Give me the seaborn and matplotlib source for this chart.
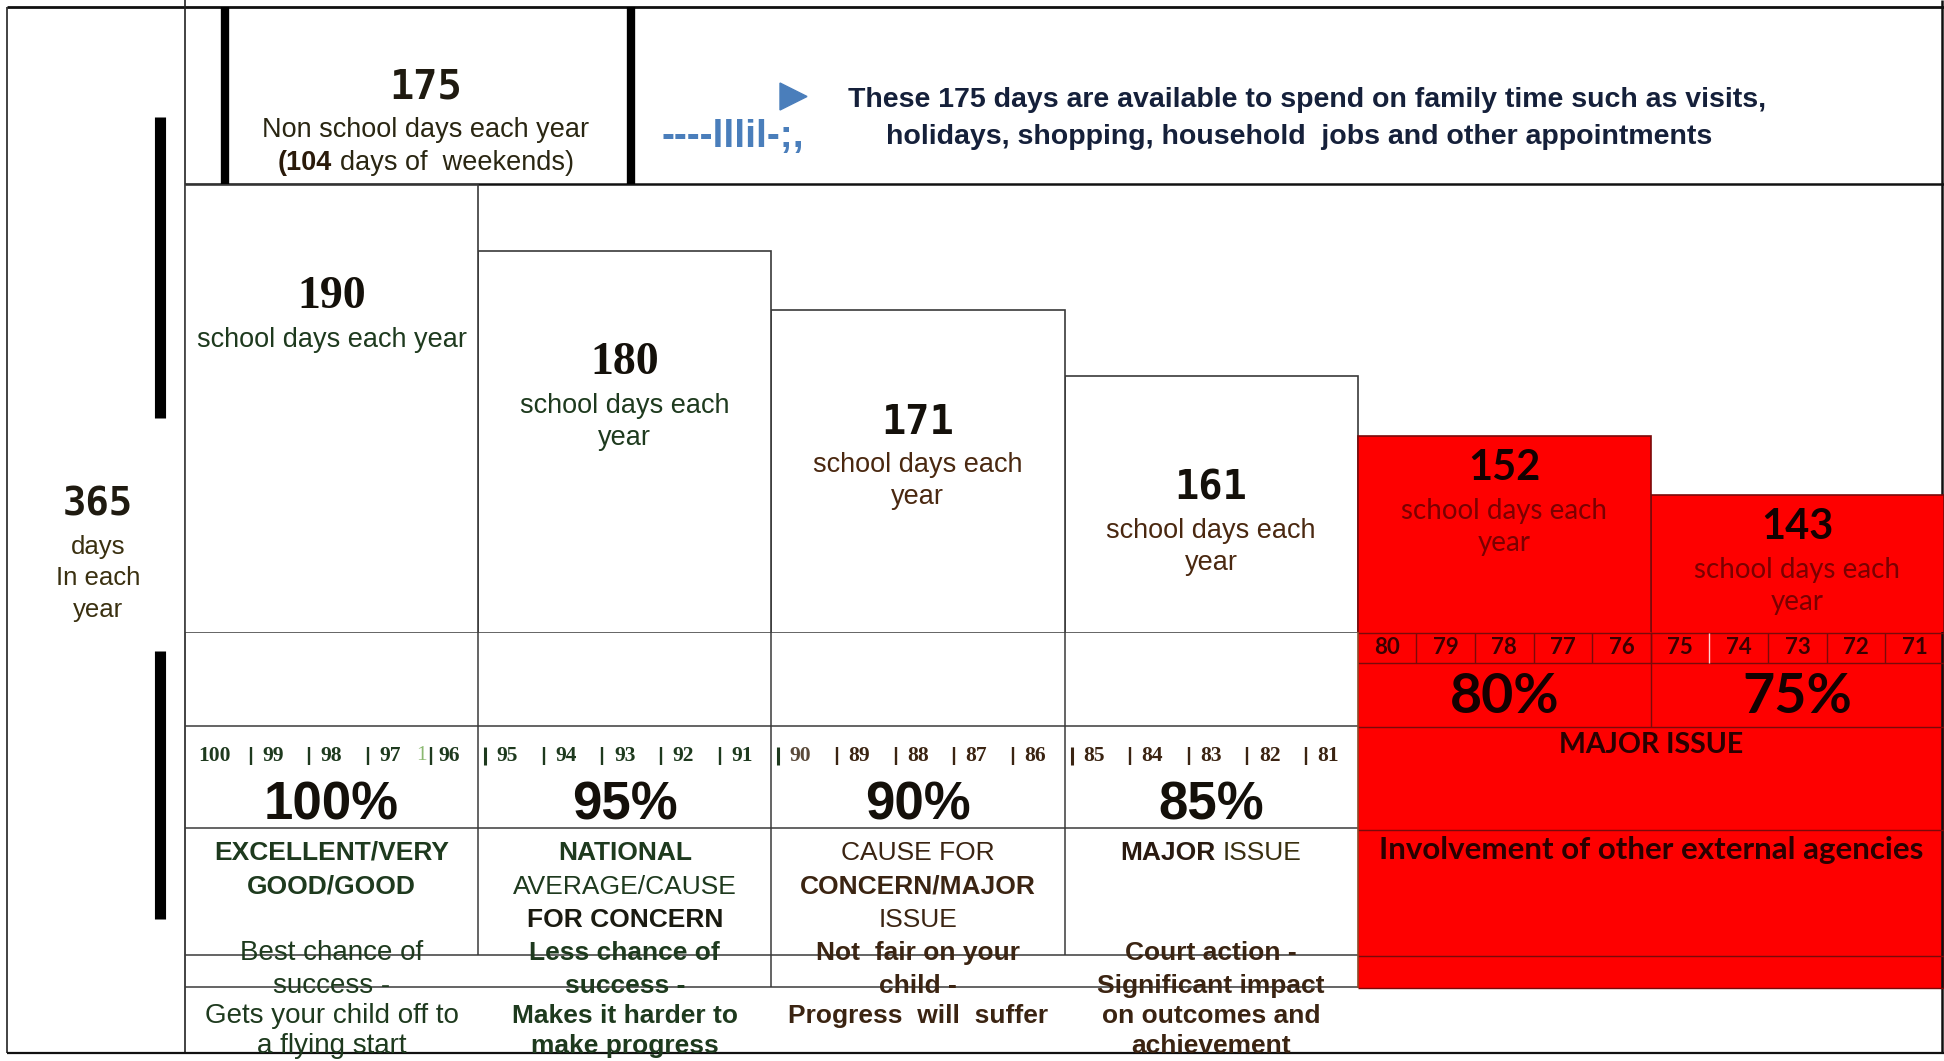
import matplotlib
matplotlib.use("Agg")
import matplotlib.pyplot as plt
import seaborn as sns
import pandas as pd
from matplotlib import font_manager
from matplotlib import transforms as mtrans
from matplotlib.patches import Rectangle, Polygon

# ---------------- data ----------------
attendance_pct = [100, 95, 90, 85, 80, 75]
school_days = [190, 180, 171, 161, 152, 143]
band = ["ok", "ok", "ok", "ok", "major", "major"]
day_captions = ["school days each year", "school days each\nyear", "school days each\nyear",
                "school days each\nyear", "school days each\nyear", "school days each\nyear"]
white_scale = [100, 99, 98, 97, 96, 95, 94, 93, 92, 91, 90, 89, 88, 87, 86, 85, 84, 83, 82, 81]
red_scale = [80, 79, 78, 77, 76, 75, 74, 73, 72, 71]
total_days = 365
non_school_days = 175
weekend_days = 104
status_text = [["EXCELLENT/VERY", "GOOD/GOOD"],
               ["NATIONAL", "AVERAGE/CAUSE", "FOR CONCERN"],
               ["CAUSE FOR", "CONCERN/MAJOR", "ISSUE"],
               ["MAJOR", "ISSUE"]]
outcome_text = [["Best chance of", "success -", "Gets your child off to", "a flying start"],
                ["Less chance of", "success -", "Makes it harder to", "make progress"],
                ["Not  fair on your", "child -", "Progress  will  suffer"],
                ["Court action -", "Significant impact", "on outcomes and", "achievement"]]
header_note = ["These 175 days are available to spend on family time such as visits,",
               "holidays, shopping, household  jobs and other appointments"]
red_issue = "MAJOR ISSUE"
red_action = "Involvement of other external agencies"

# ---------------- fonts ----------------
_names = {f.name for f in font_manager.fontManager.ttflist}
def pick(*names):
    for n in names:
        if n in _names:
            return n
    return "DejaVu Sans"

SANS = pick("Liberation Sans", "Arial", "DejaVu Sans")
NARROW = pick("Liberation Sans Narrow", SANS)
SERIF = pick("Liberation Serif", "DejaVu Serif")
MONO = pick("DejaVu Sans Mono", "Liberation Mono")
CAL = pick("Lato", "Open Sans", SANS)

sns.set_theme(style="white")
plt.rcParams["font.family"] = [SANS, "DejaVu Sans"]

W, H = 1944, 1061
RED = "#FE0000"
EDGE = "#3a3a3a"
DARKRED = "#7a0a0a"
GREEN = "#1e3a1e"
BROWN = "#3b2412"

fig = plt.figure(figsize=(W / 100, H / 100), dpi=100)
fig.patch.set_facecolor("white")

ax_bg = fig.add_axes([0, 0, 1, 1])
ax_bg.set_xlim(0, W)
ax_bg.set_ylim(H, 0)
ax_bg.axis("off")

# bar panel: x = attendance %, y = school days
X0, X1, YT, YB = 185, 1944, 184, 632
ax_bar = fig.add_axes([X0 / W, 1 - YB / H, (X1 - X0) / W, (YB - YT) / H])
df = pd.DataFrame({"center": [p - 2 for p in attendance_pct], "days": school_days, "band": band})
sns.barplot(data=df, x="center", y="days", hue="band", palette={"ok": "white", "major": RED},
            native_scale=True, dodge=False, width=1, legend=False, errorbar=None, saturation=1,
            linewidth=1.2, edgecolor=EDGE, ax=ax_bar)
for p in ax_bar.patches:
    fc = p.get_facecolor()
    if fc[1] < 0.5:
        p.set_edgecolor(DARKRED)
ax_bar.set_xlim(100.5, 70.5)
ax_bar.set_ylim(122.27, 190.15)
ax_bar.axis("off")

blend = mtrans.blended_transform_factory(ax_bar.transData, ax_bg.transData)
renderer = fig.canvas.get_renderer()


def mixed(ax, x, y, segs, transform, size, gap_em=0.28):
    texts, widths = [], []
    for s, kw in segs:
        t = ax.text(x, y, s, transform=transform, ha="left", va="center", fontsize=size, **kw)
        texts.append(t)
        widths.append(t.get_window_extent(renderer=renderer).width)
    gap = gap_em * size * fig.dpi / 72
    total = sum(widths) + gap * (len(segs) - 1)
    cur = -total / 2
    for t, w in zip(texts, widths):
        t.set_transform(mtrans.offset_copy(transform, fig=fig, x=cur, y=0, units="dots"))
        cur += w + gap


def hline(y, xa, xb, tr, color=EDGE, lw=1.1, z=2):
    ax_bg.plot([xa, xb], [y, y], color=color, lw=lw, transform=tr, zorder=z, solid_capstyle="butt")


def vline(x, ya, yb, tr, color=EDGE, lw=1.1, z=2):
    ax_bg.plot([x, x], [ya, yb], color=color, lw=lw, transform=tr, zorder=z, solid_capstyle="butt")


px = ax_bg.transData

# ---------------- frame ----------------
hline(7, 7, W, px, color="#111111", lw=2.0)
vline(7, 7, 1053, px, color="#222222", lw=1.2)
vline(1942, 0, 1053, px, color="#111111", lw=1.8)
vline(185, 0, 1053, px, color="#222222", lw=1.2)
hline(184, 185, W, px, color="#111111", lw=1.8)
hline(1053, 7, W, px, color="#111111", lw=1.6)
vline(225, 7, 184, px, color="black", lw=6)
vline(631, 7, 184, px, color="black", lw=6)
vline(160, 117, 418, px, color="black", lw=8)
vline(160, 651, 919, px, color="black", lw=8)

# ---------------- header ----------------
ax_bg.text(426, 87, str(non_school_days), family=MONO, weight="bold", fontsize=29,
           color="#1f1a10", ha="center", va="center")
ax_bg.text(426, 130, "Non school days each year", fontsize=19.5, color="#2a2612",
           ha="center", va="center")
mixed(ax_bg, 426, 163, [("(" + str(weekend_days), dict(weight="bold", color="#2a1a0a")),
                        ("days of  weekends)", dict(color="#2a2612"))], px, 19.5)
ax_bg.add_patch(Polygon([[780, 83], [807, 96.5], [780, 110]], closed=True, color="#4a7ebb", zorder=3))
ax_bg.text(733, 137, "----lllil-;,", family=NARROW, weight="bold", fontsize=28, color="#4a7ebb",
           ha="center", va="center")
ax_bg.text(1307, 100, header_note[0], weight="bold", fontsize=20.5, color="#15203a", ha="center", va="center")
ax_bg.text(1299, 137, header_note[1], weight="bold", fontsize=20.5, color="#15203a", ha="center", va="center")

# ---------------- left column ----------------
ax_bg.text(98, 505, str(total_days), family=MONO, weight="bold", fontsize=28, color="#1f1a10",
           ha="center", va="center")
for yy, s in zip([547, 578, 610], ["days", "In each", "year"]):
    ax_bg.text(98, yy, s, fontsize=18.5, color="#3a3010", ha="center", va="center")

# ---------------- bar labels ----------------
for pct, d, b, cap in zip(attendance_pct, school_days, band, day_captions):
    cx = pct - 2
    if b == "ok":
        off = 112
        if d >= 180:
            nkw = dict(family=SERIF, weight="bold", fontsize=33, color="#14100a")
        else:
            nkw = dict(family=MONO, weight="bold", fontsize=29, color="#14100a")
        ckw = dict(fontsize=19.5, color=GREEN if d >= 180 else "#4a2810")
    else:
        off = 32
        nkw = dict(family=CAL, weight="bold", fontsize=30, color="#140000")
        ckw = dict(family=CAL, fontsize=20, color="#7a0000")
    ax_bar.annotate(str(d), xy=(cx, d), xytext=(0, -off), textcoords="offset pixels",
                    ha="center", va="center", annotation_clip=False, **nkw)
    for i, line in enumerate(cap.split("\n")):
        ax_bar.annotate(line, xy=(cx, d), xytext=(0, -(off + 43 + 32 * i)), textcoords="offset pixels",
                        ha="center", va="center", annotation_clip=False, **ckw)

mixed(ax_bg, attendance_pct[0] - 2, 557,
      [(str(school_days[0]), dict(family=SERIF, color=GREEN)), ("days for your", dict(color=GREEN))],
      blend, 18.5)
ax_bg.text(attendance_pct[0] - 2, 587, "child's education", fontsize=18.5, color=GREEN,
           ha="center", va="center", transform=blend)

# ---------------- lower grid (white columns) ----------------
ok_pcts = [p for p, b in zip(attendance_pct, band) if b == "ok"]
left_edge = max(attendance_pct) + 0.5
red_edge = min(ok_pcts) - 4.5
right_edge = min(attendance_pct) - 4.5
for yy in [632, 726, 828, 955, 987]:
    hline(yy, left_edge, red_edge, blend)
for p, yb in zip(ok_pcts[1:], [955, 987, 955]):
    vline(p + 0.5, 632, yb, blend)

# scale numbers
for n in white_scale:
    col = GREEN if n > 90 else ("#5a4a3a" if n == 90 else BROWN)
    ax_bg.text(n, 756, str(n), family=SERIF, weight="bold", fontsize=15.5, color=col,
               ha="center", va="center", transform=blend)
    if n < 100:
        scol = GREEN if n >= 90 else BROWN
        if n == 96:
            ax_bg.text(n + 0.47, 755, "1", family=SERIF, fontsize=15.5, color="#8ab870",
                       ha="center", va="center", transform=blend)
            vline(n + 0.3, 747, 765, blend, color=scol, lw=1.7)
        else:
            vline(n + 0.38, 747, 765, blend, color=scol, lw=2.2 if n % 5 == 0 else 1.7)

# percent labels, status, outcomes
for k, pct in enumerate(ok_pcts):
    cx = pct - 2
    ax_bg.text(cx, 805, f"{pct}%", weight="bold", fontsize=38, color="#14100a",
               ha="center", va="center", transform=blend)
    ccol = GREEN if k < 2 else BROWN
    lines = status_text[k]
    if k == 0:
        styles = ["bold", "bold"]
    elif k == 1:
        styles = ["bold", "normal", "bold"]
    elif k == 2:
        styles = ["normal", "bold", "normal"]
    else:
        styles = None
    if styles is not None:
        for yy, s, st in zip([853, 887, 920], lines, styles):
            c = "#1a1a10" if (k == 1 and yy == 920) else ccol
            ax_bg.text(cx, yy, s, weight=st, fontsize=19, color=c, ha="center", va="center", transform=blend)
    else:
        mixed(ax_bg, cx, 853, [(lines[0], dict(weight="bold", color="#2a1a10")),
                               (lines[1], dict(color="#3a3010"))], blend, 19)
    wt = "normal" if k == 0 else "bold"
    for yy, s in zip([953, 986, 1016, 1046], outcome_text[k]):
        ax_bg.text(cx, yy, s, weight=wt, fontsize=20 if k == 0 else 19, color=ccol,
                   ha="center", va="center", transform=blend, zorder=3)

# ---------------- red block rows ----------------
ax_bg.add_patch(Rectangle((right_edge, 632), red_edge - right_edge, 988 - 632, transform=blend,
                          facecolor=RED, edgecolor="none", zorder=1))
for yy in [633, 663, 727, 830, 956, 988]:
    hline(yy, red_edge, right_edge, blend, color=DARKRED, lw=1.0)
vline(red_edge, 632, 988, blend, color="#8a4a2a", lw=1.2)
vline(attendance_pct[-1] + 0.5, 632, 727, blend, color=DARKRED, lw=1.0)
for n in red_scale[1:]:
    vline(n + 0.5, 633, 663, blend, color="#ffd0d0" if n == 74 else DARKRED, lw=1.0)
for n in red_scale:
    ax_bg.text(n, 648, str(n), family=CAL, weight="bold", fontsize=16, color="#3a0000",
               ha="center", va="center", transform=blend)
for pct, b in zip(attendance_pct, band):
    if b == "major":
        ax_bg.text(pct - 2, 697, f"{pct}%", family=CAL, weight="bold", fontsize=40, color="#140000",
                   ha="center", va="center", transform=blend)
mid_red = (red_edge + right_edge) / 2
ax_bg.text(mid_red, 745, red_issue, family=CAL, weight="bold", fontsize=20.5, color="#2a0000",
           ha="center", va="center", transform=blend)
ax_bg.text(mid_red, 850, red_action, family=CAL, weight="bold", fontsize=22.5, color="#2a0000",
           ha="center", va="center", transform=blend)

fig.savefig("out.png", dpi=100, facecolor="white")
